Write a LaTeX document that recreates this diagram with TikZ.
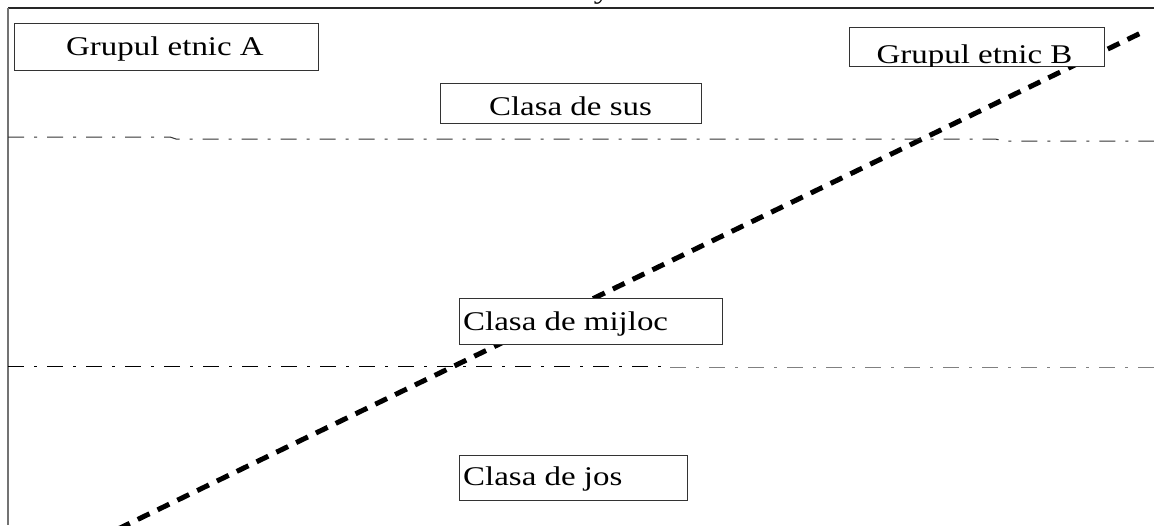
\documentclass[tikz,border=0pt]{standalone}
\usepackage{fontspec}
\setmainfont{Liberation Serif}
\newfontfamily\tf[FakeStretch=1.22]{Liberation Serif}
\begin{document}
\begin{tikzpicture}[x=1pt,y=-1pt,
  box/.style={draw=black!80,line width=1pt,fill=white,inner sep=0pt,anchor=north west},
  lbl/.style={font=\tf\fontsize{27}{30}\selectfont,inner sep=0pt},
  ddline/.style={line width=1pt,dash pattern=on 16pt off 10pt on 3pt off 10pt},
  bigdash/.style={line width=5pt,dash pattern=on 13pt off 9pt}]
\useasboundingbox (0,0) rectangle (1154,525);
% frame
\draw[line width=1.3pt,black!85] (8,8) -- (1154,8);
\draw[line width=1.3pt,black!55] (8,8) -- (8,525);
\node[lbl,anchor=base] (ty) at (602,-2) {y};
% thick dashed line
\coordinate (s) at (118,529);
\coordinate (e) at (1147,30);
\draw[bigdash] (s) -- (e);
% dash-dot lines
\draw[ddline,black!80] (8,137) -- (170,137) -- (176,139) -- (995,139) -- (1005,141) -- (1154,141);
\draw[ddline,black] (8,366) -- (670,366);
\draw[ddline,black!50] (670,367) -- (1154,367);
% boxes
\node[box,minimum width=304pt,minimum height=47pt] (bA) at (14,23) {};
\node[lbl,anchor=base] (tA) at (165,55) {Grupul etnic A};
\node[box,minimum width=261pt,minimum height=40pt] (bS) at (440,83) {};
\node[lbl,anchor=base] (tS) at (570.5,115) {Clasa de sus};
\node[box,minimum width=255pt,minimum height=39pt] (bB) at (849,27) {};
\begin{scope}
\clip (bB.south west) ++(1pt,0.5pt) rectangle ([xshift=-1pt,yshift=-1pt]bB.north east);
\node[lbl,anchor=base] (tB) at (974.5,63) {Grupul etnic B};
\end{scope}
\node[box,minimum width=263pt,minimum height=46pt] (bM) at (459,298) {};
\node[lbl,anchor=base west] (tM) at (463,330) {Clasa de mijloc};
\node[box,minimum width=228pt,minimum height=45pt] (bJ) at (459,455) {};
\node[lbl,anchor=base west] (tJ) at (463,485) {Clasa de jos};
\end{tikzpicture}
\end{document}
